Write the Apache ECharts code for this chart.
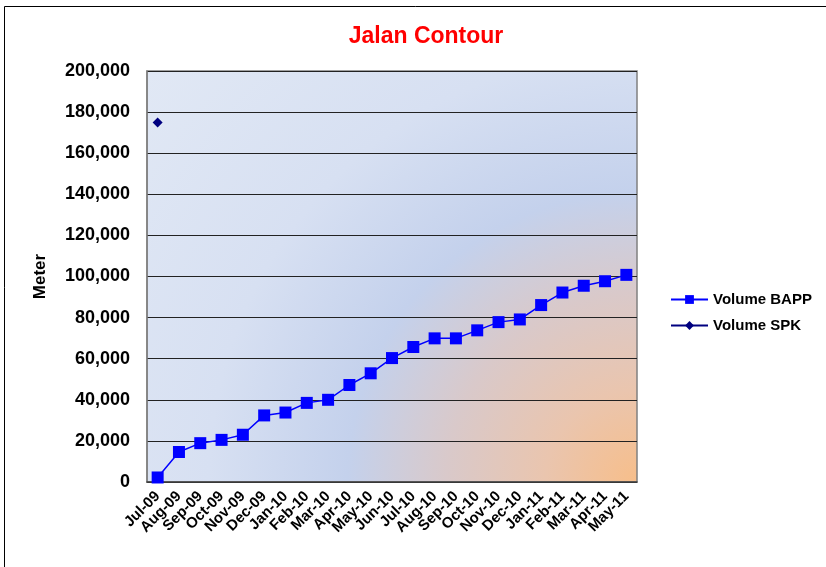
<!DOCTYPE html>
<html>
<head>
<meta charset="utf-8">
<script src="https://cdn.jsdelivr.net/npm/echarts@6/dist/echarts.min.js"></script>
<style>
  html, body { margin: 0; padding: 0; background: #fff; }
  #chart { width: 826px; height: 567px; }
</style>
</head>
<body>
<div id="chart"></div>
<script>
// data
const months = ['Jul-09', 'Aug-09', 'Sep-09', 'Oct-09', 'Nov-09', 'Dec-09', 'Jan-10', 'Feb-10',
    'Mar-10', 'Apr-10', 'May-10', 'Jun-10', 'Jul-10', 'Aug-10', 'Sep-10', 'Oct-10', 'Nov-10',
    'Dec-10', 'Jan-11', 'Feb-11', 'Mar-11', 'Apr-11', 'May-11']
const volumeBapp = [2200, 14600, 18900, 20500, 23000, 32400, 33800, 38500, 40000, 47200, 52900,
    60300, 65700, 69900, 69900, 73800, 77800, 79100, 86100, 92200, 95500, 97700, 100800]
const volumeSpk = [175000]
const yTicks = { min: 0, max: 200000, interval: 20000 }

const chart = echarts.init(document.getElementById('chart'))
const boldFont = 'Liberation Sans, Arial, sans-serif'

chart.setOption({
    animation: false,
    textStyle: { fontFamily: boldFont },
    title: {
        text: 'Jalan Contour',
        left: 421,
        top: 20,
        textAlign: 'center',
        textStyle: { color: '#ff0000', fontSize: 23, fontWeight: 'bold', fontFamily: boldFont }
    },
    graphic: [{
        type: 'rect',
        shape: { x: 4.5, y: 6.5, width: 900, height: 700 },
        style: { fill: 'none', stroke: '#000', lineWidth: 1 },
        z: -10
    }],
    grid: {
        left: 147, top: 71, width: 490, height: 411,
        show: true,
        borderColor: '#808080',
        borderWidth: 1.5,
        // plot area fill: orange glow from the lower right fading into light blue
        backgroundColor: {
            type: 'radial', x: 1, y: 1, r: 1.6,
            colorStops: [
                { offset: 0, color: '#f7be8a' },
                { offset: 0.14, color: '#eac5ae' },
                { offset: 0.29, color: '#d9c9ca' },
                { offset: 0.44, color: '#c4d1ec' },
                { offset: 0.65, color: '#d7e0f2' },
                { offset: 1, color: '#e2e9f5' }
            ]
        }
    },
    legend: {
        orient: 'vertical',
        left: 665,
        top: 287,
        itemWidth: 37,
        itemHeight: 11,
        itemGap: 11,
        textStyle: { fontSize: 15, fontWeight: 'bold', color: '#000', fontFamily: boldFont },
        data: ['Volume BAPP', 'Volume SPK']
    },
    xAxis: {
        type: 'category',
        data: months,
        boundaryGap: true,
        axisLine: { lineStyle: { color: '#404040', width: 1.5 } },
        axisTick: { show: false },
        axisLabel: {
            rotate: 45, interval: 0, margin: 12,
            fontSize: 15, fontWeight: 'bold', color: '#000', fontFamily: boldFont
        }
    },
    yAxis: {
        type: 'value',
        min: yTicks.min, max: yTicks.max, interval: yTicks.interval,
        name: 'Meter',
        nameLocation: 'middle',
        nameGap: 98,
        nameTextStyle: { fontSize: 17, fontWeight: 'bold', color: '#000', fontFamily: boldFont },
        axisLine: { show: true, lineStyle: { color: '#808080', width: 1.5 } },
        axisTick: { show: false },
        splitLine: { lineStyle: { color: '#222', width: 1 } },
        axisLabel: {
            margin: 17, fontSize: 18, fontWeight: 'bold', color: '#000', fontFamily: boldFont,
            formatter: v => v.toLocaleString('en-US')
        }
    },
    series: [
        {
            name: 'Volume BAPP',
            type: 'line',
            data: volumeBapp,
            symbol: 'rect',
            symbolSize: 12,
            itemStyle: { color: '#0000ff' },
            lineStyle: { color: '#0000ff', width: 1.5 }
        },
        {
            name: 'Volume SPK',
            type: 'line',
            data: volumeSpk,
            symbol: 'diamond',
            symbolSize: 10,
            itemStyle: { color: '#000080' },
            lineStyle: { color: '#000080', width: 1.5 }
        }
    ]
})
</script>
</body>
</html>
